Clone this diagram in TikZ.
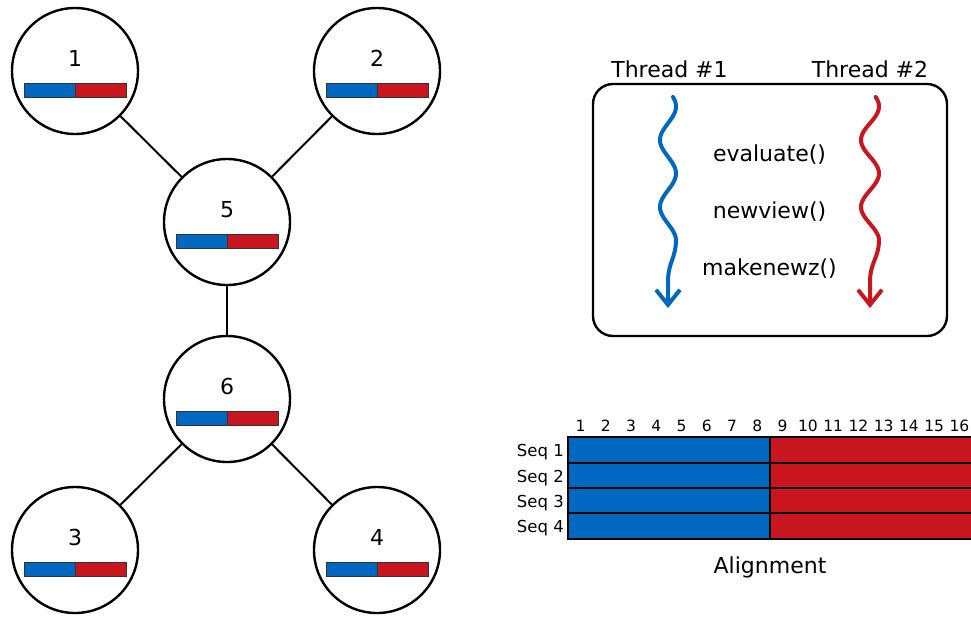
\documentclass[tikz,border=0pt]{standalone}
\usepackage{fontspec}
\setmainfont{DejaVu Sans}
\usetikzlibrary{arrows.meta,calc}
\definecolor{tblue}{RGB}{0,104,192}
\definecolor{tred}{RGB}{200,21,30}
\begin{document}
\begin{tikzpicture}[x=1pt,y=-1pt,
  treenode/.style={circle,draw,line width=2.4pt,minimum size=126pt,inner sep=0pt,fill=white},
  edge/.style={line width=2pt},
  big/.style={font=\fontsize{22}{26}\selectfont,inner sep=0pt},
  small/.style={font=\fontsize{15.5}{18}\selectfont,inner sep=0pt},
  seqlabel/.style={font=\fontsize{16.5}{19}\selectfont,inner sep=0pt},
  halfbar/.style={draw=black!80,line width=1pt},
  wave/.style={line width=4pt,line cap=round,-{Straight Barb[length=15pt,width=24pt]}},
  gridline/.style={draw=black,line width=2.4pt},
  threadbox/.style={draw,rounded corners=20pt,line width=2.4pt,minimum width=354pt,minimum height=252pt,inner sep=0pt},
]
\useasboundingbox (0,0) rectangle (971,616);

% tree of partitions, each with its split bar
\foreach \n/\x/\y in {1/75/71,2/377/71,5/227/222,6/227/399,3/75/550,4/377/550}{
  \node[treenode] (n\n) at (\x,\y) {};
  \node[big,anchor=base] (t\n) at (\x,\y-5) {\n};
  \fill[tblue] (\x-51,\y+12) rectangle (\x,\y+26);
  \fill[tred] (\x,\y+12) rectangle (\x+51,\y+26);
  \draw[halfbar] (\x-51,\y+12) rectangle (\x+51,\y+26);
  \draw[halfbar] (\x,\y+12) -- (\x,\y+26);
}
\draw[edge] (n1) -- (n5);
\draw[edge] (n2) -- (n5);
\draw[edge] (n5) -- (n6);
\draw[edge] (n6) -- (n3);
\draw[edge] (n6) -- (n4);

% threads box
\node[threadbox] (box) at (770,210) {};
\node[big,anchor=base] (th1) at (669.5,77) {Thread \#1};
\node[big,anchor=base] (th2) at (870,77) {Thread \#2};
\node[big,anchor=base] (f1) at (769.5,161) {evaluate()};
\node[big,anchor=base] (f2) at (769.5,218) {newview()};
\node[big,anchor=base] (f3) at (769.5,275) {makenewz()};

% wavy thread lines (phase in degrees: 360/67 per unit)
\draw[wave,tblue] plot[domain=97:240,samples=80] ({668-8*cos(5.3731*(\x-140))},\x)
  .. controls (676,258) and (668,262) .. (668,282) -- (668,308);
\draw[wave,tred] plot[domain=97:240,samples=80] ({870-9*cos(5.3731*(\x-140))},\x)
  .. controls (879,258) and (870,262) .. (870,282) -- (870,308);

% alignment grid
\fill[tblue] (568,437) rectangle (770,539);
\fill[tred] (770,437) rectangle (972,539);
\draw[gridline] (568,437) rectangle (972,539);
\foreach \r in {463,488,513} \draw[gridline] (568,\r) -- (972,\r);
\draw[gridline] (770,437) -- (770,539);
\foreach \i in {1,...,16}
  \node[small,anchor=base] (c\i) at ({568+25.25*(\i-0.5)},431) {\i};
\foreach \i/\b in {1/456.5,2/482,3/507,4/532.5}
  \node[seqlabel,anchor=base east] (s\i) at (564,\b) {Seq \i};
\node[big,anchor=base] (al) at (770,573) {Alignment};
\end{tikzpicture}
\end{document}
